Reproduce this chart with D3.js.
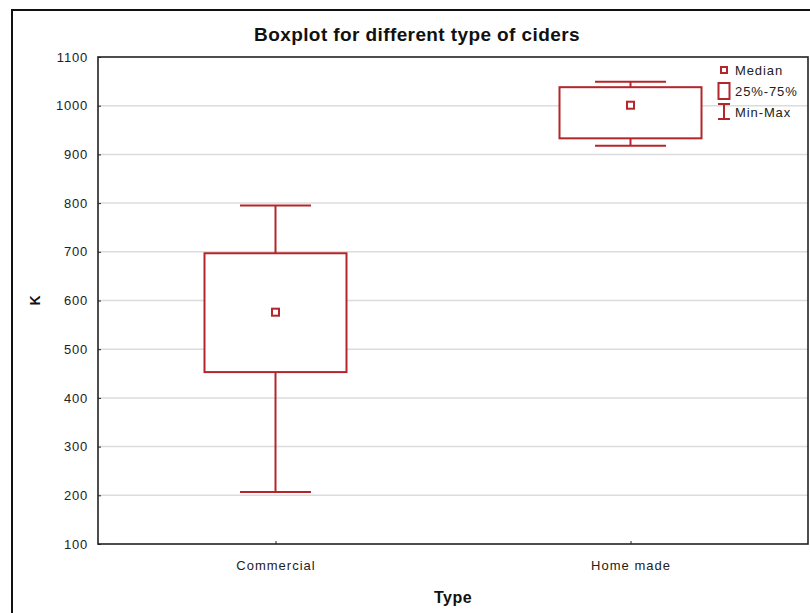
<!DOCTYPE html>
<html>
<head>
<meta charset="utf-8">
<script src="https://cdn.jsdelivr.net/npm/d3@7"></script>
<style>
  body { margin: 0; background: #fff; }
  svg { display: block; }
</style>
</head>
<body>
<div id="chart"></div>
<script>
// data
var categories = ['Commercial', 'Home made'];
var minValues = [207, 918];
var q1Values = [453, 933];
var medianValues = [576, 1001];
var q3Values = [697, 1038];
var maxValues = [795, 1049];
var yTicks = [100, 200, 300, 400, 500, 600, 700, 800, 900, 1000, 1100];
var legendItems = ['Median', '25%-75%', 'Min-Max'];

var attrs = {
    svgWidth: 810,
    svgHeight: 613,
    marginTop: 57,
    marginLeft: 98,
    marginRight: 2,
    marginBottom: 69,
    boxColor: '#b3262b',
    gridColor: '#dcdcdc',
    font: '"Liberation Sans", Arial, sans-serif'
};

var chartWidth = attrs.svgWidth - attrs.marginLeft - attrs.marginRight;
var chartHeight = attrs.svgHeight - attrs.marginTop - attrs.marginBottom;

var data = categories.map(function (c, i) {
    return { type: c, min: minValues[i], q1: q1Values[i], median: medianValues[i], q3: q3Values[i], max: maxValues[i] };
});

var svg = d3.select('#chart').append('svg')
    .attr('width', attrs.svgWidth)
    .attr('height', attrs.svgHeight)
    .attr('font-family', attrs.font);

// outer frame
svg.append('rect')
    .attr('x', 12).attr('y', 10)
    .attr('width', 820).attr('height', 640)
    .attr('fill', 'none')
    .attr('stroke', '#111')
    .attr('stroke-width', 2);

svg.append('text')
    .attr('x', 417)
    .attr('y', 41)
    .attr('text-anchor', 'middle')
    .attr('font-size', 19)
    .attr('font-weight', 'bold')
    .attr('letter-spacing', 0.4)
    .attr('fill', '#111')
    .text('Boxplot for different type of ciders');

var chart = svg.append('g')
    .attr('transform', 'translate(' + attrs.marginLeft + ',' + attrs.marginTop + ')');

var x = d3.scalePoint().domain(categories).range([0, chartWidth]).padding(0.5);
var y = d3.scaleLinear().domain([100, 1100]).range([chartHeight, 0]);
var boxWidth = x.step() * 0.4;
var capWidth = x.step() * 0.2;

// grid
chart.selectAll('.grid').data(yTicks.slice(1, -1)).enter().append('line')
    .attr('class', 'grid')
    .attr('x1', 0).attr('x2', chartWidth)
    .attr('y1', d => y(d)).attr('y2', d => y(d))
    .attr('stroke', attrs.gridColor)
    .attr('stroke-width', 1.5);

// axes
var yAxis = chart.append('g')
    .call(d3.axisLeft(y).tickValues(yTicks).tickFormat(d3.format('d')).tickSize(-3).tickPadding(10));
yAxis.select('.domain').remove();
yAxis.selectAll('text').attr('font-size', 13).attr('letter-spacing', 0.8).attr('fill', '#222').attr('font-family', attrs.font);
yAxis.selectAll('line').attr('stroke', '#222');

var xAxis = chart.append('g')
    .attr('transform', 'translate(0,' + chartHeight + ')')
    .call(d3.axisBottom(x).tickSize(-3).tickPadding(17));
xAxis.select('.domain').remove();
xAxis.selectAll('text').attr('font-size', 13).attr('letter-spacing', 1).attr('fill', '#222').attr('font-family', attrs.font);
xAxis.selectAll('line').attr('stroke', '#222');

chart.append('rect')
    .attr('width', chartWidth).attr('height', chartHeight)
    .attr('fill', 'none')
    .attr('stroke', '#222')
    .attr('stroke-width', 1.6);

svg.append('text')
    .attr('x', attrs.marginLeft + chartWidth / 2)
    .attr('y', 603)
    .attr('text-anchor', 'middle')
    .attr('font-size', 16)
    .attr('font-weight', 'bold')
    .attr('letter-spacing', 0.5)
    .attr('fill', '#111')
    .text('Type');

svg.append('text')
    .attr('transform', 'translate(40,' + (attrs.marginTop + chartHeight / 2) + ') rotate(-90)')
    .attr('text-anchor', 'middle')
    .attr('font-size', 14)
    .attr('font-weight', 'bold')
    .attr('fill', '#111')
    .text('K');

// boxes
var boxes = chart.selectAll('.box').data(data).enter().append('g')
    .attr('class', 'box')
    .attr('transform', d => 'translate(' + x(d.type) + ',0)')
    .attr('stroke', attrs.boxColor)
    .attr('stroke-width', 2)
    .attr('fill', 'none');

boxes.append('line')
    .attr('y1', d => y(d.max)).attr('y2', d => y(d.q3));
boxes.append('line')
    .attr('y1', d => y(d.min)).attr('y2', d => y(d.q1));
boxes.append('line')
    .attr('x1', -capWidth / 2).attr('x2', capWidth / 2)
    .attr('y1', d => y(d.max)).attr('y2', d => y(d.max));
boxes.append('line')
    .attr('x1', -capWidth / 2).attr('x2', capWidth / 2)
    .attr('y1', d => y(d.min)).attr('y2', d => y(d.min));
boxes.append('rect')
    .attr('x', -boxWidth / 2).attr('width', boxWidth)
    .attr('y', d => y(d.q3)).attr('height', d => y(d.q1) - y(d.q3))
    .attr('fill', '#fff');
boxes.append('rect')
    .attr('x', -3.5).attr('width', 7)
    .attr('y', d => y(d.median) - 3.5).attr('height', 7)
    .attr('fill', '#fff');

// legend
var legend = svg.append('g').attr('transform', 'translate(724,0)');
var lg = legend.append('g').attr('stroke', attrs.boxColor).attr('stroke-width', 2).attr('fill', '#fff');
lg.append('rect').attr('x', -3).attr('y', 67).attr('width', 6).attr('height', 6);
lg.append('rect').attr('x', -5.5).attr('y', 83).attr('width', 11).attr('height', 16);
lg.append('line').attr('x1', 0).attr('x2', 0).attr('y1', 104).attr('y2', 119);
lg.append('line').attr('x1', -6).attr('x2', 6).attr('y1', 104).attr('y2', 104);
lg.append('line').attr('x1', -6).attr('x2', 6).attr('y1', 119).attr('y2', 119);

legend.selectAll('text').data(legendItems).enter().append('text')
    .attr('x', 11)
    .attr('y', (d, i) => 75 + i * 21)
    .attr('font-size', 13)
    .attr('letter-spacing', 0.9)
    .attr('fill', '#222')
    .text(d => d);
</script>
</body>
</html>
